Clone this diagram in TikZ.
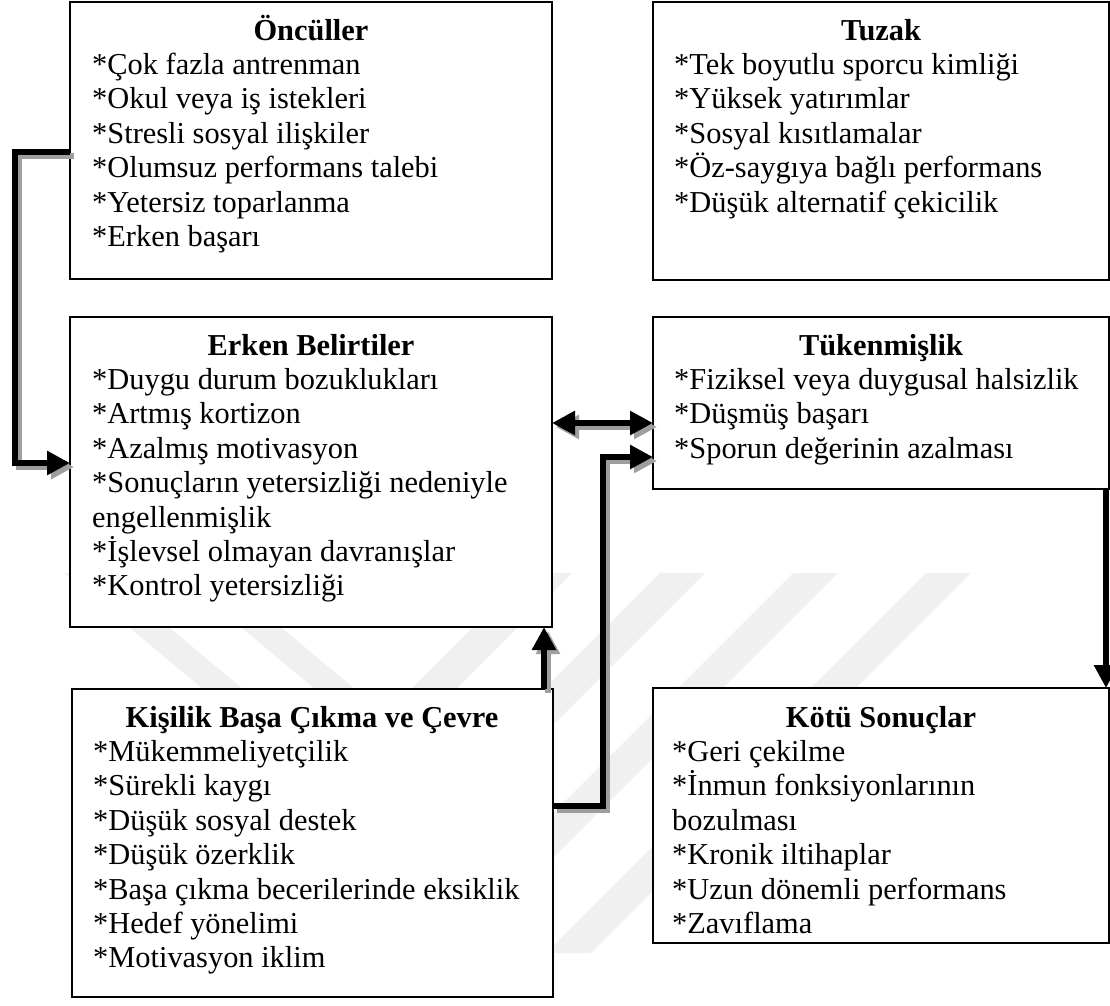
\documentclass[tikz,border=0pt]{standalone}
\usepackage{fontspec}
\setmainfont{Liberation Serif}
\usetikzlibrary{arrows.meta}
\tikzset{
  box/.style={draw=black, line width=1.8pt, fill=white, inner sep=0pt, outer sep=0pt},
  ttl/.style={anchor=base, font=\fontsize{30.4}{34.4}\selectfont\bfseries, inner sep=0pt},
  item/.style={anchor=base west, font=\fontsize{30.4}{34.4}\selectfont, inner sep=0pt},
  tipA/.tip={Triangle[length=23pt,width=23pt]},
  conn/.style={line width=6pt, line join=miter, -tipA},
  conntwo/.style={line width=6pt, tipA-tipA},
  shd/.style={draw=black!38, fill=none, transform canvas={shift={(4pt,-4pt)}}},
  wm/.style={fill=black!6},
}
\begin{document}
\begin{tikzpicture}[x=1pt,y=-1pt]
\useasboundingbox (0,0) rectangle (1110,1005);
% watermark stripes
\fill[wm] (527,573) -- (572,573) -- (192,953) -- (147,953) -- cycle;
\fill[wm] (660,573) -- (705,573) -- (325,953) -- (280,953) -- cycle;
\fill[wm] (793,573) -- (838,573) -- (458,953) -- (413,953) -- cycle;
\fill[wm] (926,573) -- (971,573) -- (591,953) -- (546,953) -- cycle;
\fill[wm] (64,573) -- (104,573) -- (328,760) -- (288,760) -- cycle;
\fill[wm] (176,573) -- (216,573) -- (440,760) -- (400,760) -- cycle;

% boxes
\node[box, minimum width=482pt, minimum height=277pt] (onc) at (311,140.5) {};
\node[box, minimum width=456pt, minimum height=278pt] (tuz) at (881,141) {};
\node[box, minimum width=482pt, minimum height=310pt] (erk) at (311,472) {};
\node[box, minimum width=456pt, minimum height=172pt] (tuk) at (881,403) {};
\node[box, minimum width=481pt, minimum height=308pt] (kis) at (312.5,843) {};
\node[box, minimum width=456pt, minimum height=255pt] (kot) at (881,815.5) {};

% texts
\node[ttl] (onc-t) at (311,40) {Öncüller};
\foreach \s [count=\i] in {*Çok fazla antrenman,*Okul veya iş istekleri,*Stresli sosyal ilişkiler,*Olumsuz performans talebi,*Yetersiz toparlanma,*Erken başarı}
  \node[item] (onc-\i) at (92,{40+34.4*\i}) {\s};

\node[ttl] (tuz-t) at (881,40) {Tuzak};
\foreach \s [count=\i] in {*Tek boyutlu sporcu kimliği,*Yüksek yatırımlar,*Sosyal kısıtlamalar,*Öz-saygıya bağlı performans,*Düşük alternatif çekicilik}
  \node[item] (tuz-\i) at (674,{40+34.4*\i}) {\s};

\node[ttl] (erk-t) at (311,355) {Erken Belirtiler};
\foreach \s [count=\i] in {*Duygu durum bozuklukları,*Artmış kortizon,*Azalmış motivasyon,*Sonuçların yetersizliği nedeniyle,engellenmişlik,*İşlevsel olmayan davranışlar,*Kontrol yetersizliği}
  \node[item] (erk-\i) at (92,{355+34.4*\i}) {\s};

\node[ttl] (tuk-t) at (881,355) {Tükenmişlik};
\foreach \s [count=\i] in {*Fiziksel veya duygusal halsizlik,*Düşmüş başarı,*Sporun değerinin azalması}
  \node[item] (tuk-\i) at (674,{355+34.4*\i}) {\s};

\node[ttl] (kis-t) at (312,727) {Kişilik Başa Çıkma ve Çevre};
\foreach \s [count=\i] in {*Mükemmeliyetçilik,*Sürekli kaygı,*Düşük sosyal destek,*Düşük özerklik,*Başa çıkma becerilerinde eksiklik,*Hedef yönelimi,*Motivasyon iklim}
  \node[item] (kis-\i) at (93,{727+34.4*\i}) {\s};

\node[ttl] (kot-t) at (881,727) {Kötü Sonuçlar};
\foreach \s [count=\i] in {*Geri çekilme,*İnmun fonksiyonlarının,bozulması,*Kronik iltihaplar,*Uzun dönemli performans,*Zavıflama}
  \node[item] (kot-\i) at (672,{727+34.4*\i}) {\s};

% connector bend points
\coordinate (c1) at (15,152);
\coordinate (c2) at (15,463);
\coordinate (d) at (600,423);
\coordinate (e1) at (603,806);
\coordinate (e2) at (603,457);
\coordinate (f) at (544,660);
\coordinate (g) at (1106,590);

% shadows
\draw[conn, shd] (onc.west |- c1) -- (c1) -- (c2) -- (erk.west |- c2);
\draw[conntwo, shd] (erk.east |- d) -- (tuk.west |- d);
\draw[conn, shd] (kis.east |- e1) -- (e1) -- (e2) -- (tuk.west |- e2);
\draw[conn, shd] (kis.north -| f) -- (erk.south -| f);

% connectors
\draw[conn] (onc.west |- c1) -- (c1) -- (c2) -- (erk.west |- c2);
\draw[conntwo] (erk.east |- d) -- (tuk.west |- d);
\draw[conn] (kis.east |- e1) -- (e1) -- (e2) -- (tuk.west |- e2);
\draw[conn] (kis.north -| f) -- (erk.south -| f);
\draw[conn] (tuk.south -| g) -- (kot.north -| g);
\end{tikzpicture}
\end{document}
